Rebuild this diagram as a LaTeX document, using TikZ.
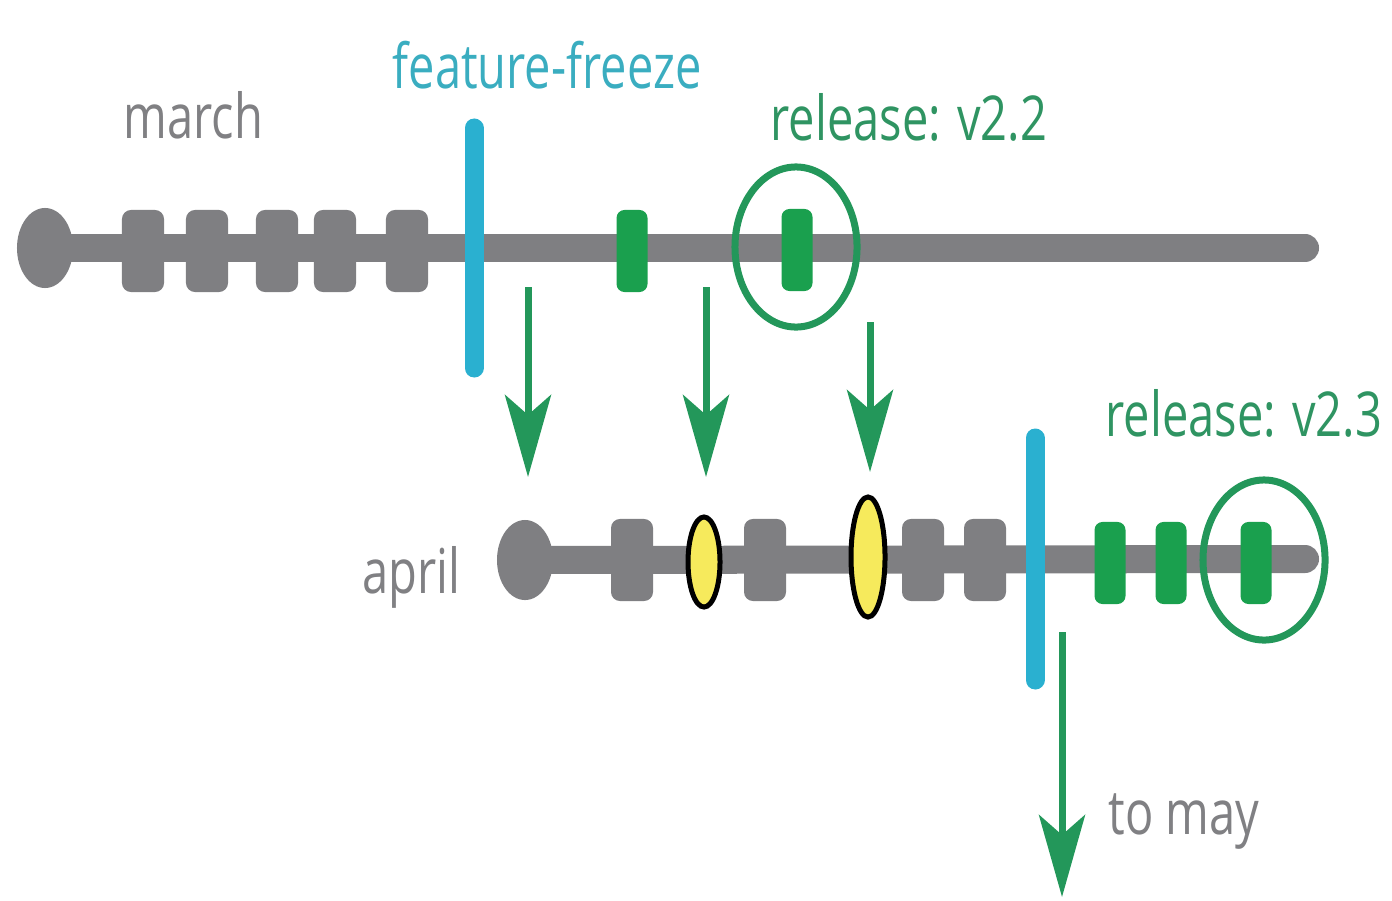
\documentclass[tikz,border=0pt]{standalone}
\usepackage{fontspec}
\setmainfont{Open Sans}
\usetikzlibrary{arrows.meta,shapes.geometric}
\definecolor{bargray}{HTML}{7F7F82}
\definecolor{txtgray}{HTML}{808083}
\definecolor{freezecyan}{HTML}{2AB0D0}
\definecolor{freezetxt}{HTML}{3AADC0}
\definecolor{fixgreen}{HTML}{1AA04E}
\definecolor{relgreen}{HTML}{23975A}
\definecolor{reltxt}{HTML}{2F9462}
\definecolor{bugyellow}{HTML}{F6EA5C}
\newcommand{\nrw}[1]{\scalebox{0.76}[1]{#1}}
\begin{document}
\begin{tikzpicture}[x=0.01cm,y=-0.01cm,
    label/.style={anchor=base west, inner sep=0pt, font=\fontsize{17.6}{20}\selectfont},
    start/.style={ellipse, fill=bargray, minimum width=0.56cm, minimum height=0.8cm, inner sep=0pt},
    commit/.style={fill=bargray, rounded corners=0.09cm, minimum width=0.42cm, minimum height=0.82cm, inner sep=0pt},
    fix/.style={fill=fixgreen, rounded corners=0.08cm, minimum width=0.31cm, minimum height=0.82cm, inner sep=0pt},
    bug/.style={ellipse, fill=bugyellow, draw=black, line width=0.05cm, minimum width=0.32cm, inner sep=0pt},
    release/.style={ellipse, draw=relgreen, line width=0.07cm, minimum width=1.22cm, minimum height=1.6cm, inner sep=0pt},
    freeze/.style={freezecyan, line width=0.19cm, line cap=round},
    branch/.style={bargray, line width=0.28cm, line cap=round},
    merge/.style={relgreen, line width=0.07cm, -{Stealth[length=0.82cm, width=0.46cm, inset=0.2cm]}}]
  \useasboundingbox (0,0) rectangle (1392,900);

  % march
  \coordinate (mend) at (1305,248);
  \node[start] (mstart) at (45,248) {};
  \draw[branch] (mstart.center) -- (mend);
  \foreach \x [count=\i] in {143,207,277,335,407}
    \node[commit] (m\i) at (\x,251) {};
  \node[fix] (mfix) at (632,251) {};
  \node[fix] (mrel) at (797,250) {};
  \node[release] (mring) at (796,247) {};
  \coordinate (mfreezetop) at (474,128);
  \coordinate (mfreezebot) at (474,368);
  \draw[freeze] (mfreezetop) -- (mfreezebot);

  % april
  \coordinate (aend) at (1305,559);
  \node[start] (astart) at (525,560) {};
  \draw[branch] (astart.center) -- (aend);
  \foreach \x [count=\i] in {632,765,923,985}
    \node[commit] (a\i) at (\x,560) {};
  \node[bug, minimum height=0.9cm] (abug1) at (704,562) {};
  \node[bug, minimum height=1.2cm, minimum width=0.34cm] (abug2) at (868,557) {};
  \foreach \x [count=\i] in {1110,1171,1256}
    \node[fix] (afix\i) at (\x,563) {};
  \node[release] (aring) at (1264,560) {};
  \coordinate (afreezetop) at (1035,438);
  \coordinate (afreezebot) at (1035,680);
  \draw[freeze] (afreezetop) -- (afreezebot);

  % arrows
  \coordinate (p1) at (528,287); \coordinate (q1) at (528,477);
  \coordinate (p2) at (706,287); \coordinate (q2) at (706,477);
  \coordinate (p3) at (870,322); \coordinate (q3) at (870,472);
  \coordinate (p4) at (1062,632); \coordinate (q4) at (1062,897);
  \foreach \i in {1,...,4}
    \draw[merge] (p\i) -- (q\i);

  % texts
  \node[label, text=txtgray] (tmarch) at (123,138) {\nrw{march}};
  \node[label, text=freezetxt] (tfreeze) at (392,88) {\nrw{feature-freeze}};
  \node[label, text=reltxt] (trel22) at (770,140) {\nrw{release: v2.2}};
  \node[label, text=reltxt] (trel23) at (1105,436) {\nrw{release: v2.3}};
  \node[label, text=txtgray] (tapril) at (362,593) {\nrw{april}};
  \node[label, text=txtgray] (tmay) at (1108,834) {\nrw{to may}};
\end{tikzpicture}
\end{document}
